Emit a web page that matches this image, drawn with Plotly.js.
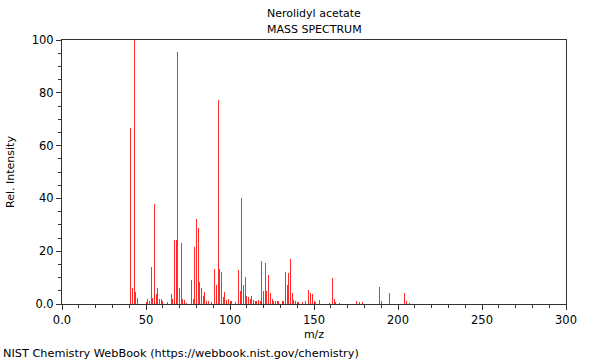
<!DOCTYPE html>
<html>
<head>
<meta charset="utf-8">
<script src="https://cdn.plot.ly/plotly-3.0.1.min.js"></script>
<style>html,body{margin:0;padding:0;background:#fff;}#chart{width:600px;height:360px;}</style>
</head>
<body>
<div id="chart"></div>
<script>
const mz = [41,42,43,44,45,50,51,52,53,54,55,56,57,58,59,60,63,65,66,67,68,69,70,71,72,73,74,77,78,79,80,81,82,83,84,85,86,87,89,91,92,93,94,95,96,97,98,99,100,101,103,105,106,107,108,109,110,111,112,113,114,115,116,117,118,119,120,121,122,123,124,125,126,127,128,129,131,132,133,134,135,136,137,138,139,140,141,143,145,147,148,149,150,151,153,159,161,162,163,165,175,177,179,189,190,195,204,205,207];
const intensity = [66.5,6,100,4.5,2.2,0.8,1.8,1,13.9,2.2,37.9,3.8,6.2,2,2,1,0.6,3.8,2,24.2,24.2,95.6,6,23,2,1.5,0.5,9.1,2,21.7,32.1,28.7,8.5,5.9,3,4.5,1,1,0.7,13.4,7.2,77.3,13.1,12.3,2.5,4.5,1.5,1.8,1,1,0.8,12.9,5,40,7.2,10.1,3,2.8,2,3,1.5,1.2,1,1.5,1,16.4,5,15.6,4.8,11,4,2,1.2,1,1,1,1,1,12.1,7.2,11.9,17,4.3,1.5,1,0.7,0.8,0.7,1.3,5.3,4.3,3.7,1.3,0.6,1.5,0.5,9.7,1.9,0.8,0.5,1.1,0.6,0.8,6.6,1.1,4.3,4.0,1,0.4];
const xTickVals = [0,50,100,150,200,250,300];
const xTickText = ['0.0','50','100','150','200','250','300'];
const yTickVals = [0,20,40,60,80,100];
const yTickText = ['0.0','20','40','60','80','100'];

const F = 'DejaVu Sans, sans-serif';
const data = [{
  type: 'bar', x: mz, y: intensity, width: 0.6,
  marker: {color: '#ff2a2a', line: {width: 0}},
  hoverinfo: 'x+y'
}];
const layout = {
  width: 600, height: 360,
  margin: {l: 62, r: 34, t: 40, b: 56},
  paper_bgcolor: '#fff', plot_bgcolor: '#fff',
  font: {family: F, size: 11, color: '#000'},
  showlegend: false,
  bargap: 0,
  xaxis: {
    range: [0, 300], showgrid: false, zeroline: false,
    showline: true, linecolor: '#333', linewidth: 1, mirror: true,
    ticks: 'outside', ticklen: 5, tickcolor: '#333',
    tickvals: xTickVals, ticktext: xTickText,
    tickfont: {family: F, size: 11.5, color: '#000'},
    minor: {dtick: 10, ticks: 'outside', ticklen: 3, tickcolor: '#333', showgrid: false},
    title: {text: 'm/z', standoff: 4, font: {family: F, size: 11, color: '#000'}}
  },
  yaxis: {
    range: [0, 100], showgrid: false, zeroline: false,
    showline: true, linecolor: '#333', linewidth: 1, mirror: true,
    ticks: 'outside', ticklen: 5, tickcolor: '#333',
    tickvals: yTickVals, ticktext: yTickText,
    tickfont: {family: F, size: 11.5, color: '#000'},
    minor: {dtick: 5, ticks: 'outside', ticklen: 3, tickcolor: '#333', showgrid: false},
    title: {text: 'Rel. Intensity', standoff: 14, font: {family: F, size: 11, color: '#000'}}
  },
  annotations: [
    {text: 'Nerolidyl acetate', xref: 'paper', yref: 'paper', x: 0.5, y: 1.102, xanchor: 'center', yanchor: 'middle',
     showarrow: false, font: {family: F, size: 11, color: '#000'}},
    {text: 'MASS SPECTRUM', xref: 'paper', yref: 'paper', x: 0.5, y: 1.038, xanchor: 'center', yanchor: 'middle',
     showarrow: false, font: {family: F, size: 11, color: '#000'}},
    {text: 'NIST Chemistry WebBook (https://webbook.nist.gov/chemistry)',
     xref: 'paper', yref: 'paper', x: -0.121, y: -0.186, xanchor: 'left', yanchor: 'middle',
     showarrow: false, font: {family: F, size: 11.3, color: '#000'}}
  ]
};
Plotly.newPlot('chart', data, layout, {displayModeBar: false, staticPlot: true});
</script>
</body>
</html>
